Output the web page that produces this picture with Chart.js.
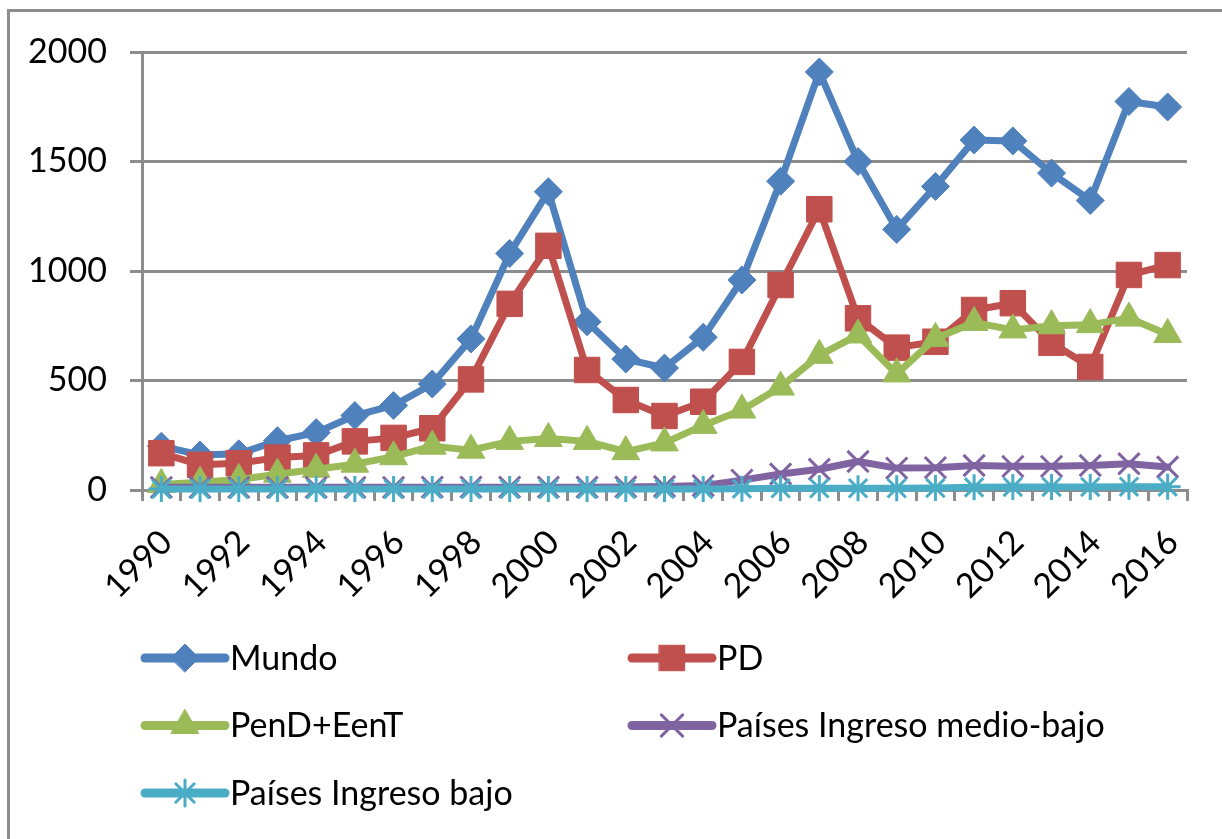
<!DOCTYPE html>
<html><head><meta charset="utf-8">
<script src="https://cdn.jsdelivr.net/npm/chart.js@4"></script>
<style>
html,body{margin:0;padding:0;background:#fff;overflow:hidden;width:1222px;height:839px}
#frame{position:absolute;left:7px;top:9px;width:1400px;height:1000px;border:3px solid #8c8c8c;box-sizing:border-box}
canvas{position:absolute;left:0;top:0}
</style></head><body>
<div id="frame"></div>
<canvas id="c" width="1222" height="839"></canvas>
<script>
const years = ['1990','1991','1992','1993','1994','1995','1996','1997','1998','1999','2000','2001','2002','2003','2004','2005','2006','2007','2008','2009','2010','2011','2012','2013','2014','2015','2016'];
const xTickLabels = ['1990','1992','1994','1996','1998','2000','2002','2004','2006','2008','2010','2012','2014','2016'];
const yTicks = [0, 500, 1000, 1500, 2000];
const seriesNames = ['Mundo', 'PD', 'PenD+EenT', 'Países Ingreso medio-bajo', 'Países Ingreso bajo'];
const mundo = [200,160,165,225,262,340,386,484,690,1080,1362,768,598,557,697,959,1410,1909,1500,1190,1386,1598,1594,1447,1322,1774,1749];
const pd = [168,115,122,148,158,222,238,282,505,850,1115,548,411,338,403,585,936,1282,784,650,677,822,853,672,562,982,1027];
const pendEent = [25,35,48,72,95,118,152,200,182,222,235,222,175,215,295,365,470,615,708,530,692,765,731,750,755,785,710];
const ingresoMedioBajo = [12,12,12,12,12,12,12,13,13,13,13,13,14,16,20,45,73,95,130,100,102,112,108,108,112,120,105];
const ingresoBajo = [5,5,5,5,5,5,5,5,5,5,5,5,5,5,5,6,8,8,8,8,9,12,14,14,14,15,15];

const colors = ['#4F81BD','#C0504D','#9BBB59','#8064A2','#4BACC6'];
const styles = ['rectRot','rect','triangle','crossRot','star'];
const radii = [14,18,16,15,13];
const values = [mundo, pd, pendEent, ingresoMedioBajo, ingresoBajo];
const filled = [true,true,true,false,false];
const FONT = {family:'Lato, "Open Sans", sans-serif', size:34};
const GRAY = '#8c8c8c';

const datasets = values.map((v,i)=>({
  label: seriesNames[i],
  data: v,
  borderColor: colors[i],
  backgroundColor: colors[i],
  borderWidth: 7,
  borderJoinStyle: 'round',
  borderCapStyle: 'round',
  pointStyle: styles[i],
  pointRadius: radii[i],
  pointHoverRadius: radii[i],
  pointBackgroundColor: colors[i],
  pointBorderColor: colors[i],
  pointBorderWidth: filled[i] ? 1 : 3,
  tension: 0,
  clip: false,
  order: values.length - i
}));

const legendPlugin = {
  id:'colLegend',
  afterDraw(chart){
    const ctx = chart.ctx;
    const cols = [145, 632];
    const y0 = 658, dy = 67.5;
    chart.data.datasets.forEach((ds,i)=>{
      const x = cols[i%2];
      const y = y0 + Math.floor(i/2)*dy;
      ctx.save();
      ctx.strokeStyle = ds.borderColor;
      ctx.fillStyle = ds.borderColor;
      ctx.lineWidth = 9;
      ctx.lineCap = 'round';
      ctx.beginPath();
      ctx.moveTo(x, y); ctx.lineTo(x+80, y);
      ctx.stroke();
      ctx.lineWidth = ds.pointBorderWidth;
      Chart.helpers.drawPoint(ctx, {pointStyle: ds.pointStyle, radius: ds.pointRadius, borderWidth: ds.pointBorderWidth, rotation:0}, x+40, y);
      ctx.fillStyle = '#000';
      ctx.font = FONT.size + 'px ' + FONT.family;
      ctx.textBaseline = 'middle';
      ctx.textAlign = 'left';
      ctx.fillText(ds.label, x+85, y+1);
      ctx.restore();
    });
  }
};

new Chart(document.getElementById('c'), {
  type:'line',
  data:{labels: years, datasets},
  plugins:[legendPlugin],
  options:{
    responsive:false,
    animation:false,
    events:[],
    layout:{padding:{top:52,right:35,left:0,bottom:0}},
    plugins:{legend:{display:false}, tooltip:{enabled:false}},
    scales:{
      x:{
        offset:true,
        grid:{display:true, offset:true, drawOnChartArea:false, drawTicks:true, tickLength:11, color:GRAY, lineWidth:3},
        border:{display:true, color:GRAY, width:3},
        ticks:{autoSkip:false, minRotation:45, maxRotation:45, padding:21, labelOffset:5, font:FONT, color:'#000',
          callback:function(v){ const l = this.getLabelForValue(v); return xTickLabels.includes(l) ? l : ''; }},
        afterFit:(s)=>{ s.height = 839 - 490; }
      },
      y:{
        min:yTicks[0], max:yTicks[yTicks.length-1],
        afterBuildTicks:(s)=>{ s.ticks = yTicks.map(v=>({value:v})); },
        ticks:{padding:23, font:FONT, color:'#000', callback:(v)=>String(v)},
        grid:{color:GRAY, lineWidth:3, tickLength:12},
        border:{display:true, color:GRAY, width:3},
        afterFit:(s)=>{ s.width = 142; }
      }
    }
  }
});
</script>
</body></html>
